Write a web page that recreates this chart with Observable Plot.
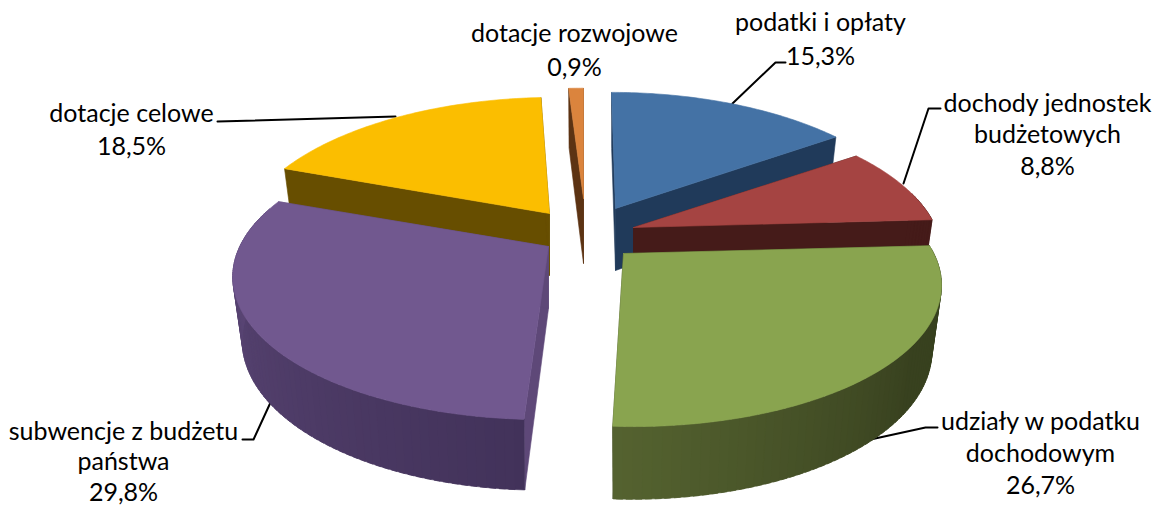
<!DOCTYPE html>
<html><head><meta charset="utf-8">
<style>html,body{margin:0;padding:0;background:#fff}svg{display:block}</style>
<script src="https://cdn.jsdelivr.net/npm/d3@7"></script>
<script src="https://cdn.jsdelivr.net/npm/@observablehq/plot@0.6"></script>
</head><body><script>
// Data
const categories = ["podatki i opłaty","dochody jednostek budżetowych","udziały w podatku dochodowym","subwencje z budżetu państwa","dotacje celowe","dotacje rozwojowe"];
const shares = [15.3, 8.8, 26.7, 29.8, 18.5, 0.9];
const shareLabels = ["15,3%","8,8%","26,7%","29,8%","18,5%","0,9%"];
const labelLines = [["podatki i opłaty","15,3%"],["dochody jednostek","budżetowych","8,8%"],["udziały w podatku","dochodowym","26,7%"],["subwencje z budżetu","państwa","29,8%"],["dotacje celowe","18,5%"],["dotacje rozwojowe","0,9%"]];
// Styles and layout
const topColors = ["#4472a5","#a54442","#89a44f","#71588f","#fbbe00","#db843d"];
const cutColors = ["#203a5a","#451b19","#38411f","#5e4878","#674e00","#5c3313"];
const wallFrom  = ["#203a5a","#451b19","#38411f","#42325a","#674e00","#5c3313"];
const wallTo    = ["#203a5a","#451b19","#556330","#604a7b","#674e00","#5c3313"];
const apexX = [615,633,623,548,549,583];
const apexY = [208,227,253,246,213,198];
const rxMul = [.96,.96,.985,.98,.965,1];
const ryMul = [1,1,1,1,1,.95];
const shearX = [.034,0,.05,-.03,-.05,0];
const depth = [62,62,64,62,62,65];
const drawOrder = [5,4,0,1,3,2];
const labelX = [820,1047,1040,123,131,574];
const labelY = [22,103,421,431,113,33];
const labelStep = [34,31.5,32,30.5,33,34];
const leaders = [
  [[732,103],[775,62],[785,62]],
  [[903,183],[928,108],[940,108]],
  [[870,439],[925,427],[937,427]],
  [[270,402],[253,439],[242,439]],
  [[395,116],[217,121]]
];
// Projection of a pie rim angle to screen offset
const RX = 315, RY = 139, K = 0.197;
function rim(deg, i, sx = 1, sy = 1) {
  const t = deg * Math.PI / 180, u = Math.sin(t), v = -Math.cos(t), w = 1 - K * v;
  const y = RY * v / w * ryMul[i];
  return [(RX * u / w * rxMul[i] + shearX[i] * y) * sx, y * sy];
}
const BX = 0.97, BY = 1.05;
const upper = (deg, i) => { const [x, y] = rim(deg, i); return [apexX[i] + x, apexY[i] + y]; };
const lower = (deg, i) => { const [x, y] = rim(deg, i, BX, BY); return [apexX[i] + x, apexY[i] + depth[i] + y]; };

const polys = [];
let id = 0;
function poly(points, color) {
  const k = id++;
  for (const [x, y] of [...points, points[0]]) polys.push({x, y, z: k, color});
}
const cum = d3.cumsum(shares);
for (const i of drawOrder) {
  const a0 = (i ? cum[i - 1] : 0) * 3.6, a1 = cum[i] * 3.6;
  const A = [apexX[i], apexY[i]], B = [apexX[i], apexY[i] + depth[i]];
  // cut faces
  poly([A, upper(a0, i), lower(a0, i), B], cutColors[i]);
  poly([A, upper(a1, i), lower(a1, i), B], cutColors[i]);
  // outer wall, band by band; each band runs on under the next
  const n = Math.max(2, Math.ceil((a1 - a0) / 1.5));
  const shade = d3.interpolateRgb(wallFrom[i], wallTo[i]);
  for (let j = 0; j < n; j++) {
    const d0 = a0 + (a1 - a0) * j / n, d1 = a0 + (a1 - a0) * (j + 1) / n;
    if (Math.cos(d0 * Math.PI / 180) > 0.25 && Math.cos(d1 * Math.PI / 180) > 0.25) continue;
    const s = i === 2 ? Math.min(1, Math.max(0, ((d0 - 125) / (a1 - 125)))) : (j + .5) / n;
    const e1 = Math.min(a1, d1 + 1);
    poly([upper(d0, i), upper(e1, i), lower(e1, i), lower(d0, i)], shade(s));
  }
  // top surface
  const pts = [A];
  for (let j = 0; j <= 60; j++) pts.push(upper(a0 + (a1 - a0) * j / 60, i));
  poly(pts, topColors[i]);
}
const leaderRows = leaders.flatMap((l, k) => l.map(([x, y]) => ({x, y, k})));
const textRows = labelLines.flatMap((lines, i) => lines.map((text, j) => ({text, x: labelX[i], y: labelY[i] + j * labelStep[i]})));

const chart = Plot.plot({
  width: 1152, height: 506, margin: 0,
  x: {domain: [0, 1152], range: [0, 1152], axis: null},
  y: {domain: [0, 506], range: [0, 506], axis: null},
  color: {type: "identity"},
  style: {background: "#fff"},
  marks: [
    Plot.line(leaderRows, {x: "x", y: "y", z: "k", stroke: "#000", strokeWidth: 2, curve: "linear"}),
    Plot.line(polys, {x: "x", y: "y", z: "z", fill: "color", stroke: "color", strokeWidth: 0.6, curve: "linear"}),
    Plot.text(textRows, {x: "x", y: "y", text: "text", fontFamily: "Lato", fontSize: 25, fill: "#000", textAnchor: "middle", lineAnchor: "middle"})
  ]
});
document.body.appendChild(chart);
</script></body></html>
